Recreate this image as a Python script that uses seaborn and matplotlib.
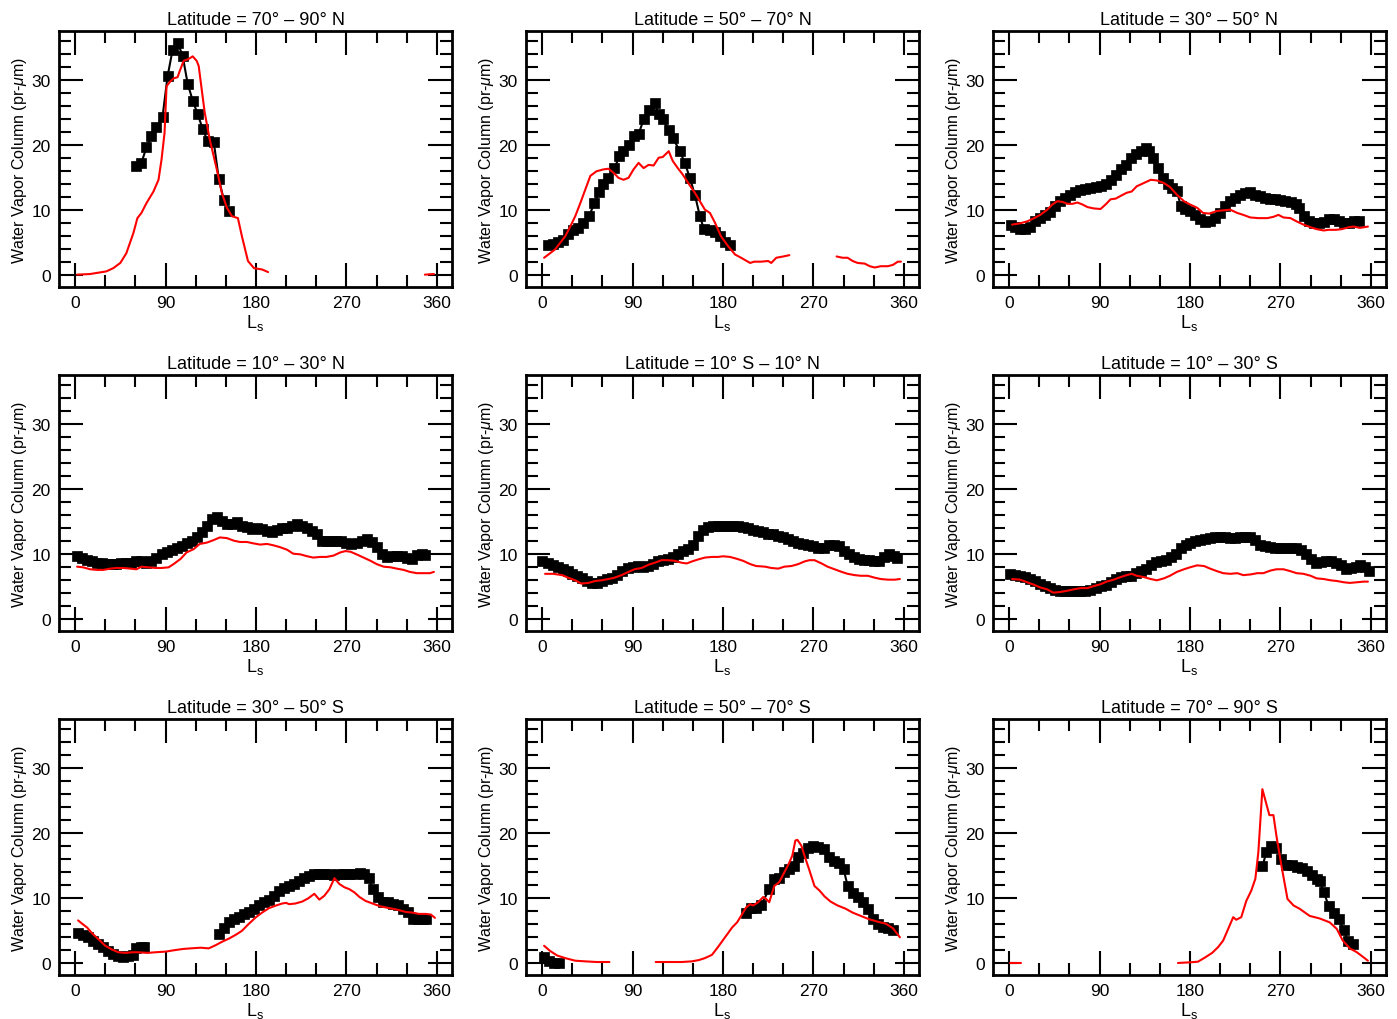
import numpy as np
import pandas as pd
import matplotlib
matplotlib.use("Agg")
import matplotlib.pyplot as plt
import seaborn as sns
from matplotlib.ticker import MultipleLocator

# ---------------- data (None = gap in the record) ----------------
titles = ["Latitude = 70° – 90° N", "Latitude = 50° – 70° N", "Latitude = 30° – 50° N",
          "Latitude = 10° – 30° N", "Latitude = 10° S – 10° N", "Latitude = 10° – 30° S",
          "Latitude = 30° – 50° S", "Latitude = 50° – 70° S", "Latitude = 70° – 90° S"]

# 70-90 N
obs1_ls = [61, 66, 71, 76, 81, 87, 92, 97, 102, 107, 112, 117, 122, 127, 132, 138, 143, 148, 153]
obs1_wv = [16.8, 17.3, 19.7, 21.4, 22.8, 24.4, 30.6, 34.7, 35.8, 33.8, 29.5, 26.9, 24.8, 22.5, 20.6, 20.5, 14.8, 11.6, 9.9]
gcm1_ls = [2, 15, 25, 31, 38, 45, 51, 58, 62, 66, 71, 78, 83, 86, 89, 91, 95, 98, 102, 104, 108, 113, 117, 121,
           123, 126, 129, 134, 141, 146, 151, 156, 162, 166, 172, 178, 186, 192, None, 348, 357]
gcm1_wv = [0.1, 0.2, 0.45, 0.6, 1.1, 1.9, 3.4, 6.5, 8.8, 9.6, 11.1, 12.9, 14.7, 17.8, 21.9, 29.1, 29.9, 30.3, 30.5,
           31.4, 33.0, 33.3, 33.7, 33.0, 32.2, 28.6, 25.0, 20.9, 16.3, 12.7, 10.4, 9.1, 8.8, 6.0, 2.2, 1.1, 0.9, 0.5,
           None, 0.1, 0.2]

# 50-70 N
obs2_ls = [6, 11, 16, 21, 26, 31, 36, 41, 47, 52, 57, 61, 66, 72, 77, 81, 86, 91, 96, 101, 106, 112, 116, 120,
           126, 130, 137, 142, 147, 152, 157, 161, 167, 172, 177, 182, 187]
obs2_wv = [4.7, 4.8, 5.1, 5.4, 6.3, 6.9, 7.3, 8.0, 9.2, 11.1, 12.8, 14.0, 15.0, 16.5, 18.3, 19.1, 20.1, 21.4, 21.7,
           24.0, 25.5, 26.5, 24.8, 24.0, 22.4, 21.2, 19.1, 17.3, 15.0, 12.4, 9.1, 7.1, 7.0, 6.6, 6.0, 5.2, 4.7]
gcm2_ls = [2, 8, 13, 18, 23, 28, 33, 38, 43, 48, 54, 61, 66, 71, 76, 81, 86, 91, 96, 101, 106, 111, 116, 120, 126,
           130, 135, 140, 145, 152, 157, 162, 167, 172, 178, 185, 192, 198, 207, 211, 218, 225, 228, 233, 240, 246,
           None, 293, 299, 304, 309, 314, 321, 326, 331, 337, 344, 349, 354, 357]
gcm2_wv = [2.7, 3.4, 4.0, 5.0, 6.0, 7.5, 9.1, 11.1, 13.2, 15.3, 16.0, 16.3, 16.4, 15.8, 15.0, 14.7, 15.0, 16.3, 17.3,
           16.5, 17.0, 16.9, 18.1, 18.2, 19.1, 17.6, 16.5, 15.5, 14.3, 12.7, 11.4, 10.1, 9.6, 8.1, 6.0, 4.5, 3.2, 2.7,
           1.9, 2.1, 2.1, 2.2, 1.9, 2.7, 2.9, 3.1,
           None, 2.9, 2.7, 2.7, 2.2, 1.9, 1.8, 1.4, 1.2, 1.4, 1.4, 1.6, 2.1, 2.1]

# 30-50 N
obs3_ls = [2, 6, 11, 16, 21, 26, 31, 36, 41, 46, 51, 56, 61, 66, 71, 76, 81, 86, 91, 96, 101, 106, 111, 116, 121,
           126, 131, 136, 139, 143, 148, 153, 158, 162, 167, 171, 175, 180, 185, 190, 195, 200, 205, 210, 215, 220,
           225, 230, 235, 240, 245, 250, 255, 260, 265, 270, 275, 280, 285, 288, 293, 298, 303, 308, 313, 318, 323,
           328, 333, 338, 343, 348]
obs3_wv = [7.8, 7.4, 7.2, 7.1, 7.5, 8.3, 8.8, 9.3, 9.8, 10.6, 11.4, 11.9, 12.4, 12.8, 13.1, 13.3, 13.5, 13.6, 13.8,
           14.1, 14.6, 15.5, 16.4, 16.9, 18.1, 18.7, 19.1, 19.6, 19.1, 18.1, 16.5, 15.0, 14.1, 13.5, 12.9, 10.6,
           10.2, 9.9, 9.3, 8.6, 8.2, 8.3, 8.8, 9.6, 10.6, 11.4, 11.9, 12.3, 12.6, 12.8, 12.4, 12.2, 11.9, 11.8, 11.8,
           11.6, 11.4, 11.3, 11.0, 10.4, 9.1, 8.3, 8.1, 8.0, 8.2, 8.7, 8.6, 8.3, 8.1, 8.1, 8.3, 8.3]
gcm3_ls = [3, 11, 18, 25, 31, 38, 43, 48, 53, 58, 63, 68, 73, 78, 84, 91, 96, 101, 106, 112, 117, 122, 127, 134,
           141, 147, 154, 160, 167, 174, 180, 187, 193, 199, 207, 213, 220, 227, 233, 240, 248, 257, 263, 268, 273,
           280, 286, 293, 300, 306, 313, 318, 325, 331, 338, 343, 349, 357]
gcm3_wv = [7.8, 8.0, 8.3, 8.8, 9.3, 10.1, 10.9, 11.4, 11.3, 11.0, 11.0, 11.2, 10.9, 10.5, 10.3, 10.2, 10.9, 11.7,
           11.8, 12.3, 12.7, 12.9, 13.7, 14.2, 14.7, 14.6, 14.2, 13.6, 12.4, 11.4, 10.9, 10.4, 9.6, 9.5, 9.9, 10.0,
           10.1, 9.6, 9.3, 8.9, 8.8, 8.8, 9.0, 9.3, 8.9, 8.8, 8.3, 7.8, 7.4, 7.1, 6.9, 7.0, 7.0, 7.1, 7.4, 7.5, 7.3, 7.5]

# 10-30 N
obs4_ls = [2, 7, 12, 17, 22, 27, 32, 37, 41, 46, 51, 56, 61, 66, 71, 76, 81, 86, 91, 96, 101, 106, 111, 116, 121,
           126, 131, 136, 141, 146, 151, 156, 161, 166, 171, 176, 181, 186, 191, 196, 201, 206, 211, 216, 221, 226,
           231, 236, 241, 246, 251, 256, 260, 265, 270, 275, 280, 285, 290, 295, 300, 305, 310, 315, 320, 325, 330,
           335, 340, 345, 348]
obs4_wv = [9.7, 9.4, 9.1, 8.9, 8.7, 8.6, 8.5, 8.5, 8.5, 8.6, 8.7, 8.7, 9.0, 8.9, 8.7, 9.0, 9.5, 10.0, 10.4, 10.6,
           10.9, 11.3, 11.7, 12.1, 12.6, 13.5, 14.4, 15.4, 15.8, 15.1, 14.6, 14.7, 15.0, 14.4, 14.2, 13.9, 14.1, 13.9,
           13.6, 13.5, 13.7, 14.0, 14.0, 14.3, 14.6, 14.4, 14.0, 13.6, 13.1, 12.1, 12.0, 12.1, 12.1, 12.0, 11.8, 11.6,
           11.8, 12.1, 12.4, 11.9, 11.1, 10.0, 9.6, 9.7, 9.8, 9.7, 9.5, 9.3, 9.9, 10.0, 9.9]
gcm4_ls = [2, 8, 15, 22, 28, 35, 41, 48, 55, 61, 66, 73, 80, 86, 93, 98, 105, 111, 118, 124, 131, 138, 144, 151,
           158, 164, 171, 177, 184, 191, 197, 204, 211, 217, 224, 231, 237, 244, 250, 257, 264, 269, 274, 280, 287,
           294, 300, 307, 314, 320, 327, 333, 340, 347, 353, 357]
gcm4_wv = [8.1, 8.0, 7.7, 7.6, 7.6, 7.8, 7.9, 7.9, 7.8, 7.7, 8.1, 8.0, 7.9, 7.9, 8.0, 8.5, 9.3, 10.3, 10.8, 11.6,
           11.8, 12.2, 12.6, 12.5, 12.1, 11.9, 11.9, 11.7, 11.5, 11.6, 11.4, 11.1, 10.7, 10.1, 10.0, 9.7, 9.5, 9.6,
           9.6, 9.8, 10.3, 10.5, 10.4, 10.0, 9.5, 9.0, 8.5, 8.1, 8.0, 7.8, 7.6, 7.3, 7.1, 7.1, 7.1, 7.3]

# 10 S - 10 N
obs5_ls = [0, 6, 11, 16, 21, 26, 30, 35, 40, 45, 50, 55, 60, 65, 70, 75, 80, 85, 90, 95, 100, 105, 110, 115, 120,
           125, 130, 135, 140, 145, 150, 155, 160, 165, 170, 175, 180, 185, 190, 195, 200, 205, 210, 215, 220, 225,
           230, 235, 240, 245, 250, 255, 260, 265, 270, 275, 280, 285, 290, 295, 300, 305, 310, 315, 320, 325, 330,
           335, 340, 345, 350, 353]
obs5_wv = [9.0, 8.6, 8.3, 8.1, 7.8, 7.4, 7.0, 6.7, 6.3, 5.9, 5.6, 5.6, 5.9, 6.2, 6.4, 6.8, 7.4, 7.9, 8.1, 8.2, 8.1,
           8.2, 8.5, 8.9, 9.2, 9.3, 9.6, 10.1, 10.5, 10.8, 11.5, 12.8, 13.8, 14.2, 14.4, 14.4, 14.4, 14.3, 14.3, 14.3,
           14.2, 14.1, 13.8, 13.6, 13.5, 13.2, 13.1, 12.8, 12.6, 12.3, 12.1, 11.8, 11.6, 11.5, 11.3, 11.0, 11.0, 11.4,
           11.4, 11.3, 10.5, 10.0, 9.6, 9.3, 9.2, 9.1, 8.9, 9.0, 9.6, 10.1, 9.7, 9.5]
gcm5_ls = [3, 11, 20, 26, 33, 39, 46, 53, 59, 66, 72, 79, 86, 92, 99, 106, 112, 119, 125, 132, 139, 144, 149, 155,
           162, 169, 175, 180, 187, 194, 200, 207, 213, 222, 228, 235, 241, 248, 255, 261, 266, 271, 278, 284, 291,
           298, 304, 311, 317, 324, 331, 337, 344, 351, 356]
gcm5_wv = [7.0, 7.0, 6.8, 6.4, 6.0, 5.5, 5.6, 5.9, 6.0, 6.2, 6.4, 6.8, 7.3, 7.7, 7.9, 8.4, 8.7, 9.1, 9.1, 9.0, 8.7,
           8.6, 8.9, 9.2, 9.5, 9.6, 9.6, 9.7, 9.6, 9.3, 9.0, 8.5, 8.2, 8.1, 7.9, 7.8, 8.1, 8.2, 8.5, 8.9, 9.1, 9.1,
           8.6, 8.1, 7.7, 7.3, 7.0, 6.8, 6.7, 6.7, 6.4, 6.2, 6.1, 6.1, 6.2]

# 10-30 S
obs6_ls = [1, 6, 11, 16, 21, 26, 31, 36, 41, 46, 51, 56, 61, 66, 71, 76, 81, 86, 91, 96, 101, 106, 111, 116, 121,
           126, 131, 136, 141, 146, 151, 156, 161, 166, 171, 176, 180, 185, 190, 195, 200, 205, 210, 215, 220, 225,
           230, 235, 240, 245, 250, 255, 260, 265, 270, 275, 280, 285, 290, 295, 300, 305, 310, 315, 320, 325, 330,
           335, 340, 345, 349, 354, 358]
obs6_wv = [7.0, 6.8, 6.7, 6.5, 6.2, 5.9, 5.4, 5.1, 4.8, 4.5, 4.3, 4.3, 4.3, 4.3, 4.3, 4.3, 4.5, 4.8, 5.1, 5.3, 5.8,
           6.2, 6.5, 6.6, 6.7, 7.1, 7.4, 7.8, 8.3, 8.8, 9.0, 9.2, 9.6, 10.1, 10.9, 11.4, 11.8, 12.1, 12.2, 12.3, 12.5,
           12.6, 12.6, 12.6, 12.5, 12.5, 12.6, 12.7, 12.7, 12.2, 11.5, 11.3, 11.1, 11.0, 10.9, 11.0, 11.0, 10.9, 10.6,
           10.0, 9.3, 8.7, 8.8, 9.0, 9.0, 8.7, 8.3, 7.8, 7.9, 8.1, 8.3, 8.0, 7.5]
gcm6_ls = [3, 11, 18, 25, 31, 38, 44, 51, 58, 64, 71, 78, 84, 91, 97, 104, 111, 117, 122, 127, 134, 141, 147, 154,
           160, 167, 174, 180, 187, 194, 200, 207, 213, 220, 227, 233, 240, 247, 253, 260, 266, 273, 280, 286, 293,
           300, 306, 313, 320, 326, 333, 339, 346, 353, 357]
gcm6_wv = [6.2, 6.1, 5.7, 5.3, 4.9, 4.6, 4.1, 4.2, 4.4, 4.6, 4.8, 4.8, 5.1, 5.4, 5.8, 6.1, 6.5, 6.8, 7.0, 6.7, 6.5,
           6.2, 6.0, 6.3, 6.7, 7.3, 7.7, 8.0, 8.3, 8.2, 7.8, 7.4, 7.1, 7.0, 7.1, 6.8, 6.9, 7.1, 7.1, 7.5, 7.7, 7.7,
           7.4, 7.1, 7.0, 6.7, 6.3, 6.2, 6.0, 5.9, 5.7, 5.6, 5.7, 5.8, 5.8]

# 30-50 S
obs7_ls = [3, 8, 13, 18, 23, 28, 33, 38, 43, 48, 53, 58, 61, 66, 69, None,
           143, 148, 153, 158, 163, 168, 173, 178, 183, 188, 193, 198, 203, 208, 213, 218, 223, 228, 233, 238, 243,
           248, 253, 258, 263, 268, 273, 278, 283, 287, 292, 296, 301, 306, 311, 316, 321, 326, 331, 336, 341, 346, 349]
obs7_wv = [4.6, 4.4, 4.0, 3.5, 3.0, 2.5, 1.9, 1.5, 1.2, 1.0, 1.2, 1.3, 2.3, 2.5, 2.5, None,
           4.5, 5.4, 6.3, 6.8, 7.2, 7.6, 7.9, 8.4, 9.0, 9.4, 9.7, 10.4, 11.2, 11.6, 11.9, 12.2, 12.7, 13.1, 13.4, 13.7,
           13.8, 13.7, 13.7, 13.6, 13.7, 13.8, 13.8, 13.7, 13.9, 13.8, 13.2, 11.4, 10.2, 9.4, 9.4, 9.2, 8.9, 8.4, 7.9,
           6.8, 6.8, 6.8, 6.8]
gcm7_ls = [3, 7, 12, 17, 24, 30, 37, 43, 50, 57, 63, 72, 80, 90, 98, 107, 115, 125, 133, 140, 146, 153, 160, 166,
           173, 180, 186, 193, 200, 206, 210, 213, 219, 226, 232, 238, 243, 248, 253, 258, 263, 268, 273, 278, 283,
           289, 296, 303, 309, 316, 322, 329, 336, 342, 349, 354, 358]
gcm7_wv = [6.6, 6.1, 5.5, 4.6, 3.6, 2.7, 2.1, 1.7, 1.6, 1.7, 1.7, 1.6, 1.7, 1.8, 2.0, 2.2, 2.3, 2.4, 2.3, 2.8, 3.3,
           3.8, 4.4, 5.0, 6.1, 7.1, 7.8, 8.5, 8.9, 9.2, 9.3, 9.1, 9.2, 9.5, 10.0, 10.7, 9.8, 10.4, 11.4, 13.1, 12.2,
           11.7, 11.4, 10.9, 10.2, 9.6, 9.2, 8.8, 8.6, 8.4, 8.2, 7.9, 7.8, 7.6, 7.6, 7.5, 7.0]

# 50-70 S
obs8_ls = [2, 7, 12, 17, None,
           203, 208, 213, 218, 226, 231, 236, 241, 246, 251, 255, 260, 265, 270, 275, 280, 285, 290, 295, 300, 304,
           309, 314, 319, 324, 329, 334, 339, 344, 349]
obs8_wv = [0.9, 0.3, 0.1, 0.1, None,
           7.8, 8.5, 8.5, 8.9, 11.5, 13.0, 13.2, 14.0, 14.5, 15.0, 16.3, 16.9, 17.7, 18.1, 17.9, 17.6, 16.3, 15.8,
           15.4, 14.5, 11.9, 10.8, 10.2, 9.4, 8.4, 6.8, 6.1, 5.6, 5.4, 5.2]
gcm8_ls = [2, 8, 15, 23, 33, 43, 54, 67, None,
           113, 125, 139, 149, 156, 162, 169, 175, 182, 189, 194, 198, 203, 207, 210, 215, 220, 223, 226, 231, 236,
           241, 246, 249, 252, 254, 258, 261, 266, 271, 276, 281, 287, 294, 302, 309, 317, 325, 334, 342, 349, 356]
gcm8_wv = [2.7, 1.9, 1.2, 0.8, 0.4, 0.3, 0.2, 0.2, None,
           0.2, 0.2, 0.2, 0.3, 0.5, 0.8, 1.3, 2.5, 4.0, 5.5, 6.3, 7.3, 8.6, 9.1, 8.9, 9.4, 10.2, 9.9, 9.4, 11.9, 12.5,
           14.0, 15.5, 16.6, 18.9, 19.0, 18.1, 16.6, 14.3, 11.9, 11.2, 10.3, 9.5, 8.9, 8.4, 7.8, 7.3, 6.8, 6.4, 6.1,
           5.4, 4.0]

# 70-90 S
obs9_ls = [252, 256, 261, 266, 271, 276, 281, 286, 291, 296, 301, 306, 309, 313, 318, 323, 328, 333, 337, 342]
obs9_wv = [14.9, 17.1, 18.0, 17.8, 16.1, 15.2, 15.1, 14.8, 14.6, 14.2, 13.6, 13.0, 12.6, 11.0, 8.8, 7.8, 6.8, 5.1,
           3.5, 3.0]
gcm9_ls = [1, 12, None,
           168, 180, 188, 195, 202, 208, 213, 218, 223, 226, 231, 236, 241, 245, 248, 252, 256, 259, 263, 266, 271,
           277, 283, 289, 299, 309, 319, 326, 332, 339, 346, 352, 357]
gcm9_wv = [0.05, 0.05, None,
           0.05, 0.15, 0.25, 0.9, 1.6, 2.5, 3.5, 5.3, 7.1, 6.7, 7.1, 9.6, 11.2, 13.0, 17.1, 26.8, 24.5, 22.8, 22.8,
           19.6, 15.0, 9.9, 8.9, 8.4, 7.3, 6.9, 6.3, 5.3, 3.5, 2.3, 1.7, 1.0, 0.4]

obs_ls = [obs1_ls, obs2_ls, obs3_ls, obs4_ls, obs5_ls, obs6_ls, obs7_ls, obs8_ls, obs9_ls]
obs_wv = [obs1_wv, obs2_wv, obs3_wv, obs4_wv, obs5_wv, obs6_wv, obs7_wv, obs8_wv, obs9_wv]
gcm_ls = [gcm1_ls, gcm2_ls, gcm3_ls, gcm4_ls, gcm5_ls, gcm6_ls, gcm7_ls, gcm8_ls, gcm9_ls]
gcm_wv = [gcm1_wv, gcm2_wv, gcm3_wv, gcm4_wv, gcm5_wv, gcm6_wv, gcm7_wv, gcm8_wv, gcm9_wv]


def to_frame(xs, ys):
    rows, seg = [], 0
    for x, y in zip(xs, ys):
        if x is None:
            seg += 1
            continue
        rows.append((x, y, seg))
    return pd.DataFrame(rows, columns=["Ls", "wv", "seg"])


# ---------------- style ----------------
sns.set_theme(style="white")
plt.rcParams["font.family"] = ["Liberation Sans", "DejaVu Sans"]
plt.rcParams["mathtext.fontset"] = "custom"
plt.rcParams["mathtext.rm"] = "Liberation Sans"
plt.rcParams["mathtext.it"] = "Liberation Sans:italic"
plt.rcParams["mathtext.default"] = "regular"

W, H = 1397, 1020
fig = plt.figure(figsize=(W / 100, H / 100), dpi=100)

col_left = [59, 526, 993]
row_top = [32, 376, 720]
ax_w, ax_h = 393, 256

for i in range(9):
    r, c = divmod(i, 3)
    ax = fig.add_axes([col_left[c] / W, (H - row_top[r] - ax_h) / H, ax_w / W, ax_h / H])
    g = to_frame(gcm_ls[i], gcm_wv[i])
    o = to_frame(obs_ls[i], obs_wv[i])
    sns.lineplot(data=o, x="Ls", y="wv", units="seg", estimator=None, sort=False, ax=ax,
                 color="black", linewidth=1.5, marker="s", markersize=7,
                 markeredgecolor="black", markeredgewidth=0.5, legend=False)
    sns.lineplot(data=g, x="Ls", y="wv", units="seg", estimator=None, sort=False, ax=ax,
                 color="#ff0000", linewidth=1.5, legend=False)
    ax.set_xlim(-16, 375)
    ax.set_ylim(-1.8, 37.6)
    ax.xaxis.set_major_locator(MultipleLocator(90))
    ax.xaxis.set_minor_locator(MultipleLocator(30))
    ax.yaxis.set_major_locator(MultipleLocator(10))
    ax.yaxis.set_minor_locator(MultipleLocator(2))
    ax.tick_params(which="both", direction="in", top=True, right=True, bottom=True, left=True,
                   width=1.5, color="black", labelsize=12.5, labelcolor="black")
    ax.tick_params(which="major", length=17, pad=6)
    ax.tick_params(which="minor", length=8.5)
    for s in ax.spines.values():
        s.set_visible(True)
        s.set_linewidth(2.0)
        s.set_color("black")
    ax.set_title(titles[i], fontsize=13, pad=5, color="black")
    ax.set_xlabel(r"L$_\mathregular{s}$", fontsize=13, labelpad=1, color="black")
    ax.set_ylabel(r"Water Vapor Column (pr-$\mathit{\mu}$m)", fontsize=11.5, labelpad=2, color="black")
    ax.set_facecolor("white")

fig.savefig("out.png", dpi=100, facecolor="white")
